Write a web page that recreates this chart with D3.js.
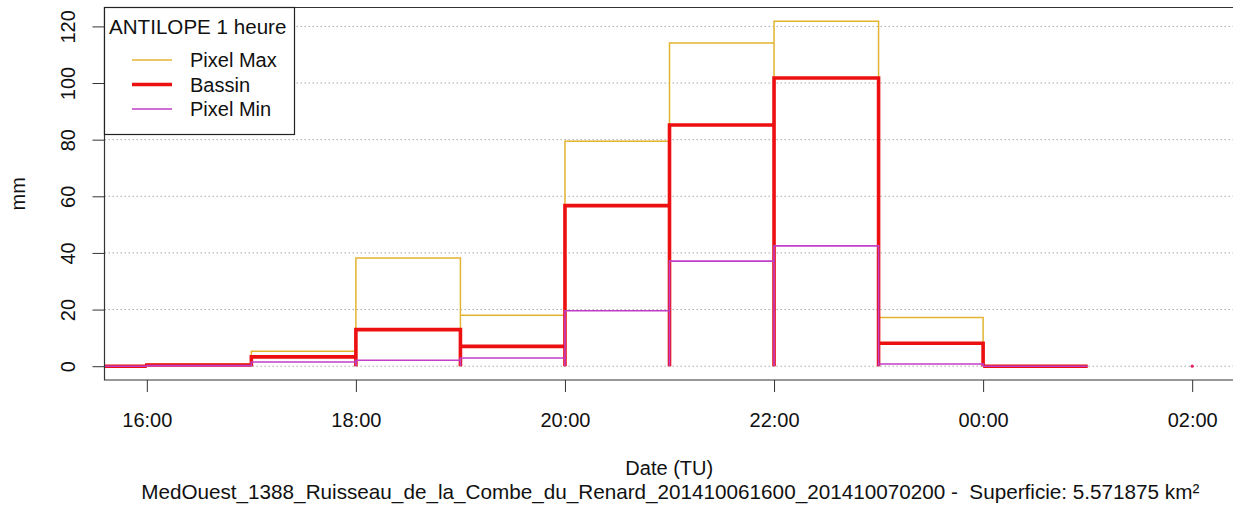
<!DOCTYPE html>
<html>
<head>
<meta charset="utf-8">
<script src="https://cdn.jsdelivr.net/npm/d3@7"></script>
<style>
  html, body { margin: 0; padding: 0; background: #fff; }
  svg { display: block; font-family: "Liberation Sans", Arial, sans-serif; }
  text { white-space: pre; }
</style>
</head>
<body>
<svg id="chart" width="1233" height="509"></svg>
<script>
// ---- data (hourly accumulations, mm) ----
const intervalStarts = ["2014-10-06T15:00Z","2014-10-06T16:00Z","2014-10-06T17:00Z","2014-10-06T18:00Z",
  "2014-10-06T19:00Z","2014-10-06T20:00Z","2014-10-06T21:00Z","2014-10-06T22:00Z",
  "2014-10-06T23:00Z","2014-10-07T00:00Z"];
const pixelMax = [0, 0.7, 5.3, 38.2, 18.0, 79.4, 114.1, 121.8, 17.2, 0];
const bassin   = [0, 0.4, 3.3, 12.9, 7.0, 56.7, 85.2, 101.8, 8.1, 0];
const pixelMin = [0, 0.2, 1.5, 2.1, 2.9, 19.6, 37.1, 42.5, 0.8, 0];
const lonePointTime = ["2014-10-07T02:00Z"];
const lonePointValue = [0];
const xTickLabels = ["16:00","18:00","20:00","22:00","00:00","02:00"];
const xTickTimes = ["2014-10-06T16:00Z","2014-10-06T18:00Z","2014-10-06T20:00Z","2014-10-06T22:00Z","2014-10-07T00:00Z","2014-10-07T02:00Z"];
const yTicks = [0, 20, 40, 60, 80, 100, 120];
const seriesNames = ["Pixel Max", "Bassin", "Pixel Min"];
const legendTitle = "ANTILOPE 1 heure";
const yLabel = "mm";
const xLabel = "Date (TU)";
const subTitle = "MedOuest_1388_Ruisseau_de_la_Combe_du_Renard_201410061600_201410070200 -  Superficie: 5.571875 km\u00B2";

// ---- layout ----
const svg = d3.select("#chart");
const L = 104.5, R = 1234, T = 7.5, B = 380;
const HOUR = 3600 * 1000;
const parse = s => new Date(s);
const t0 = parse("2014-10-06T16:00Z"), t1 = parse("2014-10-07T02:00Z");
const span = t1 - t0;
const x = d3.scaleUtc().domain([new Date(+t0 - 0.04 * span), new Date(+t1 + 0.04 * span)]).range([L + 0.5, R]);
const yMax = 121.8, yPad = 0.04 * yMax;
const y = d3.scaleLinear().domain([-yPad, yMax + yPad]).range([B, T]);

const colors = { max: "#E2B431", bassin: "#EC1010", min: "#C23EC6" };
const widths = { max: 1.5, bassin: 3.6, min: 1.6 };
const FS = 20;

// clip
svg.append("defs").append("clipPath").attr("id", "clip")
  .append("rect").attr("x", L).attr("y", T).attr("width", R - L).attr("height", B - T);

// grid lines
svg.append("g").selectAll("line").data(yTicks).join("line")
  .attr("x1", L).attr("x2", R).attr("y1", d => y(d)).attr("y2", d => y(d))
  .attr("stroke", "#a8a8a8").attr("stroke-width", 1).attr("stroke-dasharray", "1.5,2.5");

// series paths
function stepPath(vals) {
  let p = "";
  vals.forEach((v, i) => {
    const a = parse(intervalStarts[i]);
    const b = new Date(+a + HOUR);
    p += `M${x(a)},${y(0)}L${x(a)},${y(v)}L${x(b)},${y(v)}L${x(b)},${y(0)}`;
  });
  return p;
}
const g = svg.append("g").attr("clip-path", "url(#clip)");
[[pixelMax, "max"], [bassin, "bassin"], [pixelMin, "min"]].forEach(([vals, k]) => {
  g.append("path").attr("d", stepPath(vals)).attr("fill", "none")
    .attr("stroke", colors[k]).attr("stroke-width", widths[k]).attr("stroke-linejoin", "miter");
});
g.selectAll("circle.lone").data(lonePointTime).join("circle")
  .attr("cx", d => x(parse(d))).attr("cy", (d, i) => y(lonePointValue[i])).attr("r", 1.6)
  .attr("fill", "#E0206A");

// axes
const xAxis = d3.axisBottom(x).tickValues(xTickTimes.map(parse))
  .tickFormat((d, i) => xTickLabels[i]).tickSizeInner(12).tickSizeOuter(0).tickPadding(0);
const gx = svg.append("g").attr("transform", `translate(0,${B})`).call(xAxis);
gx.select(".domain").remove();
gx.selectAll(".tick line").attr("stroke", "#333");
gx.selectAll(".tick text").attr("y", 47).attr("dy", 0).attr("font-size", FS)
  .attr("font-family", "Liberation Sans, Arial, sans-serif").attr("fill", "#111");

const yAxis = d3.axisLeft(y).tickValues(yTicks).tickSizeInner(12).tickSizeOuter(0);
const gy = svg.append("g").attr("transform", `translate(${L},0)`).call(yAxis);
gy.select(".domain").remove();
gy.selectAll(".tick line").attr("stroke", "#333");
gy.selectAll(".tick text").attr("transform", "rotate(-90)").attr("x", 0).attr("y", -30).attr("dy", 0)
  .attr("text-anchor", "middle").attr("font-size", FS)
  .attr("font-family", "Liberation Sans, Arial, sans-serif").attr("fill", "#111");

// box
svg.append("path").attr("d", `M${R + 5},${T}H${L}V${B}H${R + 5}`)
  .attr("fill", "none").attr("stroke", "#333").attr("stroke-width", 1.2);

// legend
const lg = svg.append("g");
lg.append("rect").attr("x", L).attr("y", T).attr("width", 190).attr("height", 127)
  .attr("fill", "#fff").attr("stroke", "#222").attr("stroke-width", 1.2);
lg.append("text").attr("x", 109).attr("y", 34).attr("font-size", 20.6).attr("fill", "#111").text(legendTitle);
const legendKeys = ["max", "bassin", "min"];
seriesNames.forEach((name, i) => {
  const cy = 60 + i * 24.5;
  lg.append("line").attr("x1", 132).attr("x2", 172).attr("y1", cy).attr("y2", cy)
    .attr("stroke", colors[legendKeys[i]]).attr("stroke-width", widths[legendKeys[i]]);
  lg.append("text").attr("x", 190).attr("y", cy + 7).attr("font-size", FS).attr("fill", "#111").text(name);
});

// axis titles
svg.append("text").attr("transform", `translate(25,${(T + B) / 2}) rotate(-90)`)
  .attr("text-anchor", "middle").attr("font-size", FS).attr("fill", "#111").text(yLabel);
svg.append("text").attr("x", (L + R) / 2).attr("y", 475)
  .attr("text-anchor", "middle").attr("font-size", FS).attr("fill", "#111").text(xLabel);
svg.append("text").attr("x", (L + R) / 2 + 1).attr("y", 499)
  .attr("text-anchor", "middle").attr("font-size", 20.7).attr("fill", "#111").text(subTitle);
</script>
</body>
</html>
